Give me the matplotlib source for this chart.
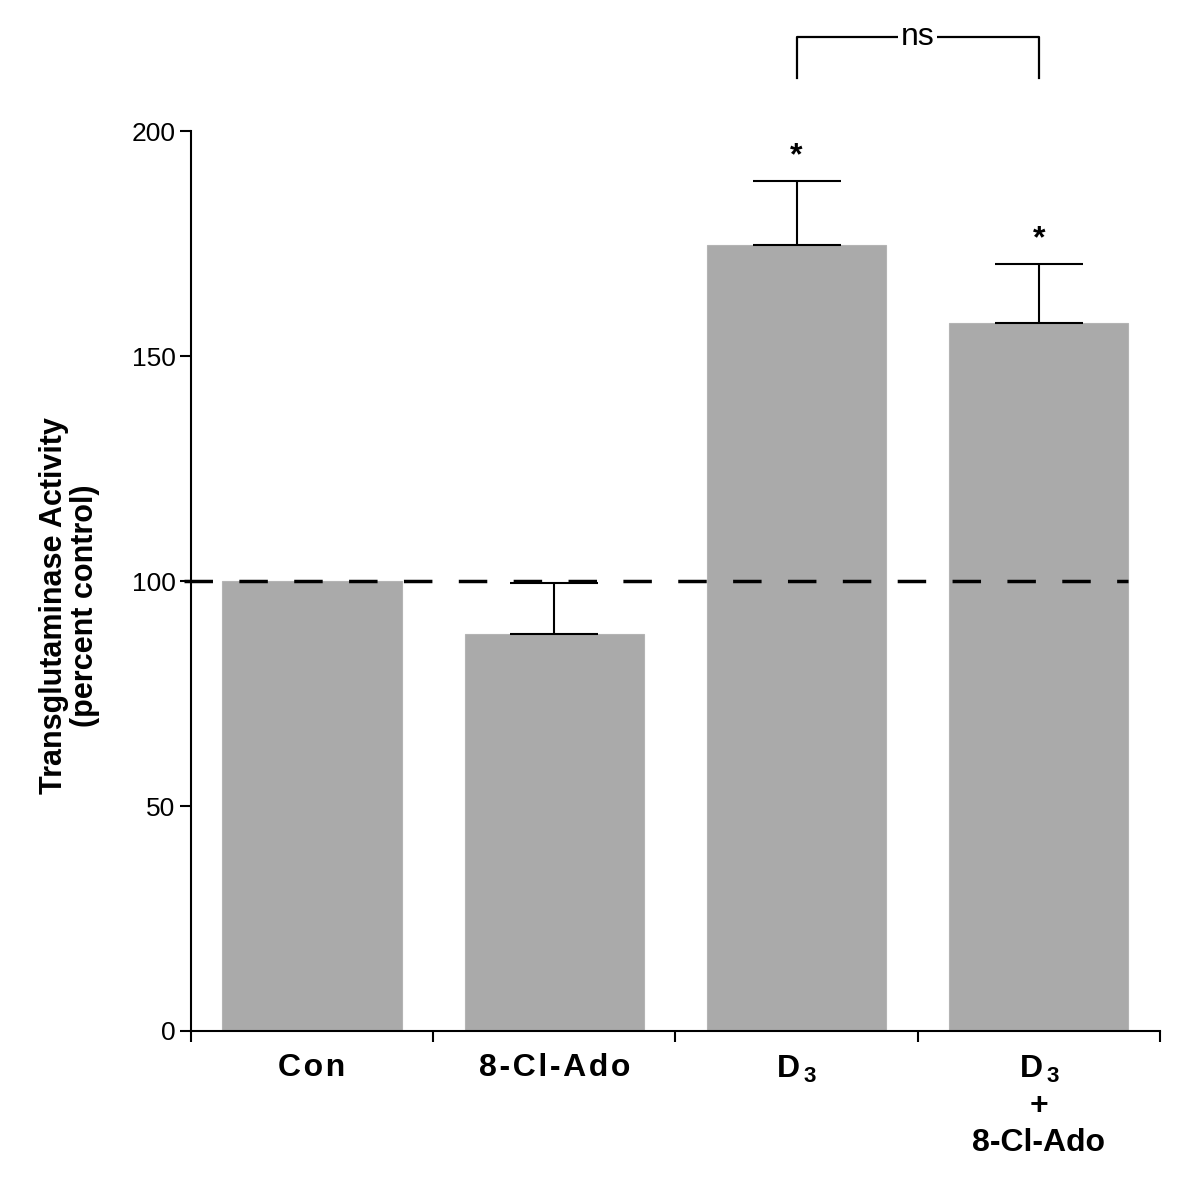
import matplotlib
matplotlib.use('Agg')
import matplotlib.pyplot as plt
import numpy as np

plt.rcParams['font.family'] = ['Liberation Sans', 'DejaVu Sans']
plt.rcParams['mathtext.fontset'] = 'custom'
plt.rcParams['mathtext.rm'] = 'Liberation Sans:bold'
plt.rcParams['mathtext.bf'] = 'Liberation Sans:bold'

# data
categories = ['C\u200ao\u200an', '8\u200a-\u200aC\u200al\u200a-\u200aA\u200ad\u200ao',
              'D$_{\\,3}$', 'D$_{\\,3}$\n+\n8-Cl-Ado']
values = [100, 88.3, 174.8, 157.3]
errors = [0, 11.2, 14.2, 13.1]
y_ticks = [0, 50, 100, 150, 200]
stars = ['', '', '*', '*']

fig = plt.figure(figsize=(11.95, 12.03), dpi=100)
ax = fig.add_axes([0.1598, 0.143, 0.8109, 0.748])

x = np.arange(len(values)) + 0.5
err = [np.zeros(len(errors)), errors]
ax.bar(x, values, width=0.74, color='#aaaaaa', edgecolor='#b4b4b4', linewidth=0.8, zorder=2)
ax.errorbar(x[1:], values[1:], yerr=[e[1:] for e in err], fmt='none', ecolor='black',
            elinewidth=1.5, capsize=32, capthick=1.5, zorder=3)

# dashed control line
ax.plot([-0.03, x[-1] + 0.37], [100, 100], color='black', lw=2.5,
        dashes=(8.2, 7.6), zorder=4, clip_on=False)

# significance stars
for xi, v, e, s in zip(x, values, errors, stars):
    if s:
        ax.text(xi, v + e + 5.5, s, ha='center', va='center', fontsize=23, fontweight='bold')

# ns bracket between D3 and D3 + 8-Cl-Ado
ax.plot([x[2], x[2], x[3], x[3]], [211.8, 221, 221, 211.8], color='black', lw=1.6,
        clip_on=False, zorder=1)
ax.text((x[2] + x[3]) / 2, 221, 'ns', ha='center', va='center', fontsize=23,
        bbox=dict(facecolor='white', edgecolor='none', pad=2))

ax.set_xlim(0, 4)
ax.set_ylim(0, 200)
ax.set_yticks(y_ticks)
ax.set_yticklabels([str(t) for t in y_ticks], fontsize=19)
ax.set_xticks(np.arange(0, 5))
ax.set_xticklabels([])
ax.set_xticks(x, minor=True)
ax.set_xticklabels(categories, minor=True, fontsize=23, fontweight='bold', linespacing=1.3,
                   va='top')
ax.tick_params(axis='x', which='minor', length=0, pad=16)
ax.tick_params(axis='both', which='major', direction='out', length=8, width=1.5, pad=3)

for side in ['top', 'right']:
    ax.spines[side].set_visible(False)
for side in ['left', 'bottom']:
    ax.spines[side].set_linewidth(1.5)

ax.set_ylabel('Transglutaminase Activity\n(percent control)', fontsize=22,
              fontweight='bold', linespacing=1.05)
ax.yaxis.set_label_coords(-0.094, 0.473)

fig.savefig('out.png', dpi=100)
